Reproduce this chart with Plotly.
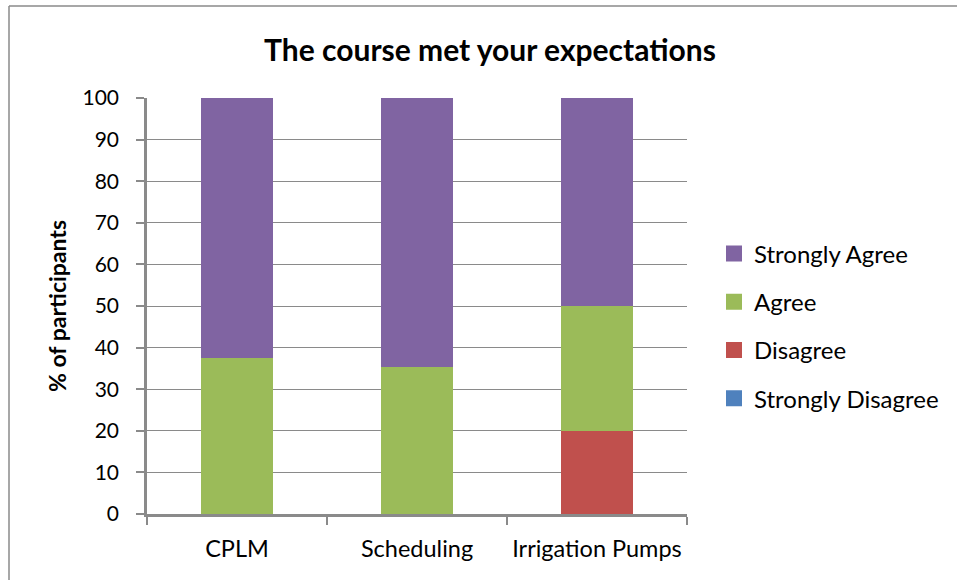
import plotly.graph_objects as go

categories = ["CPLM", "Scheduling", "Irrigation Pumps"]
strongly_disagree = [0, 0, 0]
disagree = [0, 0, 20]
agree = [37.5, 35.3, 30]
strongly_agree = [62.5, 64.7, 50]

series = [
    ("Strongly Disagree", strongly_disagree, "#4F81BD", 4),
    ("Disagree", disagree, "#C0504D", 3),
    ("Agree", agree, "#9BBB59", 2),
    ("Strongly Agree", strongly_agree, "#8064A2", 1),
]

FONT = "Lato"
GRID = "#8a8a8a"
fig = go.Figure()
for name, vals, col, rank in series:
    fig.add_trace(go.Bar(
        x=categories, y=vals, name=name, showlegend=False,
        marker=dict(color=col, line=dict(width=0)),
        width=0.4,
    ))
for name, vals, col, rank in series:
    fig.add_trace(go.Scatter(
        x=[None], y=[None], name=name, mode="markers", legendrank=rank,
        legendgroup=name,
        marker=dict(symbol="square", size=18, color=col),
    ))

W, H = 957, 580
L, T, PW, PH = 147, 98, 540, 416
fig.update_layout(
    barmode="stack",
    width=W, height=H,
    margin=dict(l=L, r=W - L - PW, t=T, b=H - T - PH, autoexpand=False),
    paper_bgcolor="white", plot_bgcolor="white",
    font=dict(family=FONT, size=22, color="black"),
    title=dict(text="<b>The course met your expectations</b>", x=490 / W, xanchor="center",
               y=1 - 50 / H, yanchor="middle", font=dict(family=FONT, size=30, color="black")),
    legend=dict(x=1.05, xanchor="left", y=0.452, yanchor="middle",
                traceorder="grouped", tracegroupgap=14,
                font=dict(family=FONT, size=24), itemwidth=30, itemsizing="trace",
                bgcolor="rgba(0,0,0,0)"),
    showlegend=True,
)
fig.update_yaxes(
    range=[0, 100], dtick=10, showgrid=True, gridcolor=GRID, gridwidth=1.3,
    showline=True, linecolor=GRID, linewidth=2.5, automargin=False,
    ticks="outside", ticklen=8, tickcolor=GRID, tickwidth=1.5,
    ticklabelstandoff=13,
    tickfont=dict(family=FONT, size=21), zeroline=False,
    title=dict(text="<b>% of participants</b>", font=dict(family=FONT, size=23), standoff=10),
)
fig.update_xaxes(
    showline=True, linecolor=GRID, linewidth=2.5, automargin=False, tickangle=0,
    ticks="outside", ticklen=8, tickcolor=GRID, tickwidth=1.5,
    ticklabelstandoff=12,
    tickson="boundaries", tickfont=dict(family=FONT, size=23.5),
)
# outer chart border (left and top edges visible in the frame)
BX, BY = 9, 6
fig.add_shape(type="line", xref="paper", yref="paper",
              x0=(BX - L) / PW, x1=(BX - L) / PW, y0=-(H + 20 - T - PH) / PH, y1=1 + (T - BY) / PH,
              line=dict(color=GRID, width=1.5), layer="below")
fig.add_shape(type="line", xref="paper", yref="paper",
              x0=(BX - L) / PW, x1=(W + 20 - L) / PW, y0=1 + (T - BY) / PH, y1=1 + (T - BY) / PH,
              line=dict(color=GRID, width=1.5), layer="below")

fig.write_html(
    "out.html",
    config={"displayModeBar": False},
    post_script=(
        "document.body.style.margin='0';"
        "document.body.style.overflow='hidden';"
        "document.documentElement.style.overflow='hidden';"
    ),
)
